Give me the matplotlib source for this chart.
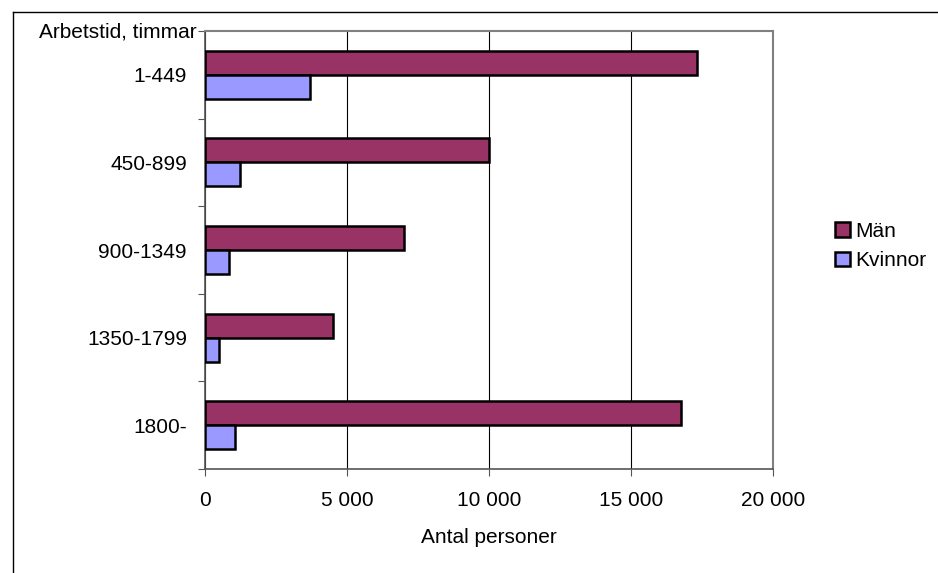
import numpy as np
import matplotlib.pyplot as plt
from matplotlib.lines import Line2D
from matplotlib.ticker import FixedLocator, FuncFormatter

plt.rcParams['font.family'] = ['Liberation Sans', 'DejaVu Sans']

# data
categories = ['1-449', '450-899', '900-1349', '1350-1799', '1800-']
man = [17320, 10010, 7000, 4500, 16770]
kvinnor = [3680, 1240, 840, 500, 1040]
xticks = [0, 5000, 10000, 15000, 20000]

col_man = '#993366'
col_kv = '#9999FF'
fs = 15

fig = plt.figure(figsize=(9.38, 5.73), dpi=100)
ax = fig.add_axes([205/938, 1 - 469/573, (773 - 205)/938, (469 - 31)/573])

y = np.arange(len(categories))
h = 0.275
ax.barh(y - h/2, man, height=h, color=col_man, edgecolor='black',
        linewidth=1.8, label='Män', zorder=3)
ax.barh(y + h/2, kvinnor, height=h, color=col_kv, edgecolor='black',
        linewidth=1.8, label='Kvinnor', zorder=3)

ax.set_xlim(0, 20000)
ax.set_ylim(len(categories) - 0.5, -0.5)

ax.xaxis.set_major_locator(FixedLocator(xticks))
ax.xaxis.set_major_formatter(FuncFormatter(lambda v, p: f'{int(v):,}'.replace(',', ' ')))
ax.grid(axis='x', color='black', linewidth=0.8, zorder=1)
ax.tick_params(axis='x', direction='out', length=5, width=0.8, color='#555555',
               labelsize=fs, pad=11)

ax.set_yticks(y)
ax.set_yticklabels(categories)
ax.yaxis.set_minor_locator(FixedLocator(np.arange(-0.5, len(categories) + 0.5, 1)))
ax.tick_params(axis='y', which='major', length=0, labelsize=fs, pad=13)
ax.tick_params(axis='y', which='minor', direction='out', length=5, width=0.8,
               color='#555555')

for s in ['top', 'right']:
    ax.spines[s].set_color('#808080')
    ax.spines[s].set_linewidth(1.5)
for s in ['left', 'bottom']:
    ax.spines[s].set_color('#555555')
    ax.spines[s].set_linewidth(1.2)

ax.set_xlabel('Antal personer', fontsize=fs, labelpad=13)
ax.annotate('Arbetstid, timmar', xy=(0, 1), xycoords='axes fraction',
            xytext=(-6, -1), textcoords='offset points',
            ha='right', va='center', fontsize=fs)

ax.legend(loc='center left', bbox_to_anchor=(835/938, 1 - 246/573),
          bbox_transform=fig.transFigure, frameon=False, fontsize=fs,
          borderpad=0, borderaxespad=0, handlelength=0.7, handleheight=0.7,
          handletextpad=0.25, labelspacing=0.5)

# outer chart border (runs off the right and bottom edges)
fig.add_artist(Line2D([13/938, 13/938], [-0.1, 1 - 12/573],
                      transform=fig.transFigure, color='black', linewidth=1))
fig.add_artist(Line2D([13/938, 1.1], [1 - 12/573, 1 - 12/573],
                      transform=fig.transFigure, color='black', linewidth=1))

fig.savefig('out.png', dpi=100)
